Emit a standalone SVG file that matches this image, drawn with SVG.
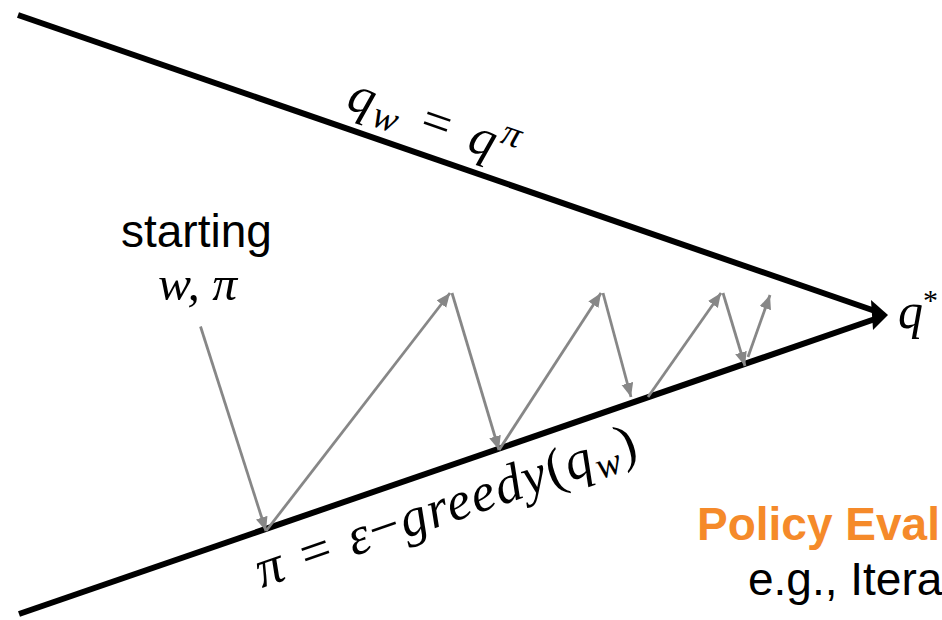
<svg xmlns="http://www.w3.org/2000/svg" width="942" height="620" viewBox="0 0 942 620">
<defs>
<style>
.bk{stroke:#000;stroke-width:6;fill:none;stroke-linecap:butt}
.gr{stroke:#878787;stroke-width:2.8;fill:none;marker-end:url(#ga)}
.math{font-family:"Liberation Serif","DejaVu Serif",serif;font-style:italic;fill:#000}
.up{font-family:"Liberation Serif","DejaVu Serif",serif;font-style:normal}
.sans{font-family:"Liberation Sans",Arial,sans-serif}
</style>
<marker id="ga" markerUnits="userSpaceOnUse" markerWidth="15" markerHeight="13" refX="14" refY="6" orient="auto">
<path d="M0,0 L14,6 L0,12 z" fill="#878787"/>
</marker>
</defs>
<rect width="942" height="620" fill="#fff"/>
<g id="connectors">
<line class="bk" x1="18" y1="15" x2="878" y2="312"/>
<line class="bk" x1="19" y1="614" x2="878" y2="318"/>
<polygon points="871,300 888,315 873,330" fill="#000"/>
<line class="gr" x1="200.5" y1="326.5" x2="266" y2="531"/>
<line class="gr" x1="266" y1="531" x2="450" y2="293"/>
<line class="gr" x1="452" y1="293" x2="499" y2="450"/>
<line class="gr" x1="499" y1="450" x2="601" y2="293"/>
<line class="gr" x1="603" y1="293" x2="631" y2="397"/>
<line class="gr" x1="648" y1="397" x2="721" y2="293"/>
<line class="gr" x1="723" y1="293" x2="745" y2="366"/>
<line class="gr" x1="748" y1="357" x2="770" y2="295"/>
</g>
<g id="label-qw">
<text class="math" font-size="52" transform="translate(345,108) rotate(19.08)" textLength="176" lengthAdjust="spacing">q<tspan font-size="38" baseline-shift="-8">w</tspan><tspan> = q</tspan><tspan font-size="38" baseline-shift="18">π</tspan></text>
</g>
<g id="label-pi">
<text class="math" font-size="54" transform="translate(262,588) rotate(-19.08)" textLength="400" lengthAdjust="spacing">π = ε<tspan class="up">−</tspan>greedy<tspan class="up">(</tspan>q<tspan font-size="38" baseline-shift="-8">w</tspan><tspan class="up">)</tspan></text>
</g>
<g id="start">
<text class="sans" font-size="46" x="121" y="247">starting</text>
<text class="math" font-size="48" x="158" y="300" textLength="79" lengthAdjust="spacingAndGlyphs">w, π</text>
</g>
<g id="qstar">
<text class="math" font-size="50" x="898" y="328">q<tspan class="up" font-size="30" baseline-shift="18">*</tspan></text>
</g>
<g id="policy-eval">
<text class="sans" font-size="46" font-weight="bold" fill="#F58A2A" x="697" y="540">Policy Eval</text>
<text class="sans" font-size="46" x="748" y="595">e.g., Itera</text>
</g>
</svg>
